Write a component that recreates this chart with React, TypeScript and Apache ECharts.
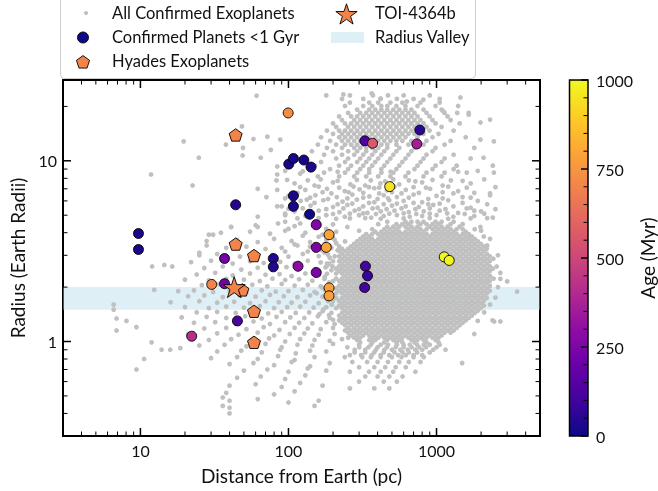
import React, { useEffect, useRef } from 'react';
import * as echarts from 'echarts';

const FONT = 'Lato, "Noto Sans", sans-serif';
const PLASMA = ['#0d0887', '#41049d', '#6a00a8', '#8f0da4', '#b12a90', '#cc4778', '#e16462', '#f2844b', '#fca636', '#fcce25', '#f0f921'];

const X_MIN = 3, X_MAX = 5000, Y_MIN = 0.3, Y_MAX = 28;
const xMajor = [10, 100, 1000];
const xMinor = [4, 5, 6, 7, 8, 9, 20, 30, 40, 50, 60, 70, 80, 90, 200, 300, 400, 500, 600, 700, 800, 900, 2000, 3000, 4000];
const yMajor = [1, 10];
const yMinor = [0.4, 0.5, 0.6, 0.7, 0.8, 0.9, 2, 3, 4, 5, 6, 7, 8, 9, 20];
const xTickLabels = ['10', '100', '1000'];
const yTickLabels = ['1', '10'];
const ageMajor = [0, 250, 500, 750, 1000];
const ageMinor = [50, 100, 150, 200, 300, 350, 400, 450, 550, 600, 650, 700, 800, 850, 900, 950];
const radiusValley = [1.5, 2.0];

// Confirmed planets < 1 Gyr
const youngDist = [9.7, 9.7, 44, 100.5, 108, 127, 142, 108, 108, 139, 79, 79, 45.2, 771, 331, 342, 327, 37, 37, 154, 154, 154, 116, 328, 736, 370, 22.2, 99.5, 188, 180, 188, 188, 30.3, 483, 1128, 1218];
const youngRad = [3.96, 3.23, 5.71, 9.59, 10.3, 10.1, 9.23, 6.4, 5.6, 5.06, 2.88, 2.59, 1.3, 14.8, 2.61, 2.31, 1.99, 2.88, 2.09, 4.43, 3.32, 2.41, 2.61, 12.9, 12.4, 12.5, 1.07, 18.4, 3.9, 3.32, 1.98, 1.79, 2.07, 7.2, 2.94, 2.81];
const youngAge = [22, 22, 45, 20, 23, 17, 35, 23, 23, 10, 40, 40, 120, 60, 110, 80, 110, 220, 220, 260, 250, 250, 290, 140, 360, 560, 420, 720, 790, 790, 780, 780, 700, 950, 990, 990];

// Hyades exoplanets
const hyadesDist = [44, 44, 58.5, 48.8, 58.5, 58.5];
const hyadesRad = [13.9, 3.46, 2.99, 1.93, 1.47, 0.99];

// TOI-4364b
const toiDist = [43];
const toiRad = [2.0];

// All confirmed exoplanets: dense Kepler-field population (radius, distances)
const keplerRows: [number, number[]][] = [
  [4.6, [465, 617, 677, 744, 817, 985, 1082, 1305]],
  [4.46, [404, 536, 588, 646, 780, 856, 940, 1032, 1245, 1502]],
  [4.32, [465, 511, 561, 617, 677, 744, 897, 985, 1082, 1188, 1433]],
  [4.18, [368, 444, 488, 536, 646, 710, 780, 856, 940, 1032, 1134, 1245, 1368, 1502, 1812]],
  [4.05, [386, 424, 465, 511, 561, 617, 677, 744, 817, 985, 1082, 1188, 1305, 1574]],
  [3.93, [335, 368, 404, 444, 488, 536, 588, 646, 710, 780, 856, 940, 1032, 1134, 1245, 1368, 1502, 1650]],
  [3.81, [320, 351, 424, 465, 511, 561, 617, 677, 744, 817, 897, 985, 1082, 1188, 1305, 1433, 1574, 1729, 2085]],
  [3.69, [305, 335, 368, 404, 444, 488, 536, 588, 646, 710, 780, 856, 940, 1032, 1134, 1245, 1368, 1502, 1650, 1812]],
  [3.58, [241, 291, 320, 351, 386, 424, 465, 511, 561, 617, 677, 744, 817, 897, 985, 1082, 1188, 1305, 1433, 1574, 1729, 1899]],
  [3.47, [278, 305, 335, 368, 404, 444, 488, 536, 588, 646, 710, 780, 856, 940, 1032, 1134, 1245, 1368, 1502, 1650, 1812, 1990]],
  [3.36, [220, 265, 291, 320, 351, 386, 424, 465, 511, 561, 617, 677, 744, 817, 897, 985, 1082, 1188, 1305, 1433, 1574, 1729, 1899, 2085]],
  [3.26, [230, 253, 278, 305, 335, 368, 404, 444, 488, 536, 588, 646, 710, 780, 856, 940, 1032, 1134, 1245, 1368, 1502, 1650, 1812, 1990, 2185]],
  [3.16, [220, 241, 265, 291, 320, 351, 386, 424, 465, 511, 561, 617, 677, 744, 817, 897, 985, 1082, 1188, 1305, 1433, 1574, 1729, 1899, 2085]],
  [3.06, [230, 253, 278, 305, 335, 368, 404, 444, 488, 536, 588, 646, 710, 780, 856, 940, 1032, 1134, 1245, 1368, 1502, 1650, 1812, 1990, 2185]],
  [2.96, [205, 220, 241, 265, 291, 320, 351, 386, 424, 465, 511, 561, 617, 677, 744, 817, 897, 985, 1082, 1188, 1305, 1433, 1574, 1729, 1899, 2085, 2290]],
  [2.87, [230, 253, 278, 305, 335, 368, 404, 444, 488, 536, 588, 646, 710, 780, 856, 940, 1032, 1134, 1245, 1368, 1502, 1650, 1812, 1990, 2185, 2420]],
  [2.78, [200, 220, 241, 265, 291, 320, 351, 386, 424, 465, 511, 561, 617, 677, 744, 817, 897, 985, 1082, 1188, 1305, 1433, 1574, 1729, 1899, 2085, 2290]],
  [2.7, [188, 230, 253, 278, 305, 335, 368, 404, 444, 488, 536, 588, 646, 710, 780, 856, 940, 1032, 1134, 1245, 1368, 1502, 1650, 1812, 1990, 2185]],
  [2.61, [198, 220, 241, 265, 291, 320, 351, 386, 424, 465, 511, 561, 617, 677, 744, 817, 897, 985, 1082, 1188, 1305, 1433, 1574, 1729, 1899, 2085, 2290]],
  [2.53, [210, 230, 253, 278, 305, 335, 368, 404, 444, 488, 536, 588, 646, 710, 780, 856, 940, 1032, 1134, 1245, 1368, 1502, 1650, 1812, 1990, 2185, 2400]],
  [2.45, [220, 241, 265, 291, 320, 351, 386, 424, 465, 511, 561, 617, 677, 744, 817, 897, 985, 1082, 1188, 1305, 1433, 1574, 1729, 1899, 2085, 2290]],
  [2.38, [210, 230, 253, 278, 305, 335, 368, 404, 444, 488, 536, 588, 646, 710, 780, 856, 940, 1032, 1134, 1245, 1368, 1502, 1650, 1812, 1990, 2185]],
  [2.3, [241, 265, 291, 320, 351, 386, 424, 465, 511, 561, 617, 677, 744, 817, 897, 985, 1082, 1188, 1305, 1433, 1574, 1729, 1899, 2085, 2290]],
  [2.23, [210, 230, 253, 278, 305, 335, 368, 404, 444, 488, 536, 588, 646, 710, 780, 856, 940, 1032, 1134, 1245, 1368, 1502, 1650, 1812, 1990, 2185, 2430]],
  [2.16, [200, 220, 241, 265, 291, 320, 351, 386, 424, 465, 511, 561, 617, 677, 744, 817, 897, 985, 1082, 1188, 1305, 1433, 1574, 1729, 1899, 2085, 2290]],
  [2.1, [230, 253, 278, 305, 335, 368, 404, 444, 488, 536, 588, 646, 710, 780, 856, 940, 1032, 1134, 1245, 1368, 1502, 1650, 1812, 1990, 2185]],
  [2.03, [220, 241, 265, 291, 320, 351, 386, 424, 465, 511, 561, 617, 677, 744, 817, 897, 985, 1082, 1188, 1305, 1433, 1574, 1729, 1899, 2085, 2290]],
  [1.97, [210, 230, 253, 278, 305, 335, 368, 404, 444, 488, 536, 588, 646, 710, 780, 856, 940, 1032, 1134, 1245, 1368, 1502, 1650, 1812, 1990, 2185]],
  [1.91, [220, 241, 265, 291, 320, 351, 386, 424, 465, 511, 561, 617, 677, 744, 817, 897, 985, 1082, 1188, 1305, 1433, 1574, 1729, 1899, 2085, 2290]],
  [1.85, [210, 230, 253, 278, 305, 335, 368, 404, 444, 488, 536, 588, 646, 710, 780, 856, 940, 1032, 1134, 1245, 1368, 1502, 1650, 1812, 1990, 2185]],
  [1.79, [241, 265, 291, 320, 351, 386, 424, 465, 511, 561, 617, 677, 744, 817, 897, 985, 1082, 1188, 1305, 1433, 1574, 1729, 1899, 2085]],
  [1.74, [210, 230, 253, 278, 305, 335, 368, 404, 444, 488, 536, 588, 646, 710, 780, 856, 940, 1032, 1134, 1245, 1368, 1502, 1650, 1812, 1990, 2185]],
  [1.68, [200, 220, 241, 265, 291, 320, 351, 386, 424, 465, 511, 561, 617, 677, 744, 817, 897, 985, 1082, 1188, 1305, 1433, 1574, 1729, 1899, 2085]],
  [1.63, [230, 253, 278, 305, 335, 368, 404, 444, 488, 536, 588, 646, 710, 780, 856, 940, 1032, 1134, 1245, 1368, 1502, 1650, 1812, 1990]],
  [1.58, [220, 241, 265, 291, 320, 351, 386, 424, 465, 511, 561, 617, 677, 744, 817, 897, 985, 1082, 1188, 1305, 1433, 1574, 1729, 1899, 2085]],
  [1.53, [210, 230, 253, 278, 305, 335, 368, 404, 444, 488, 536, 588, 646, 710, 780, 856, 940, 1032, 1134, 1245, 1368, 1502, 1650, 1812, 1990]],
  [1.48, [241, 265, 291, 320, 351, 386, 424, 465, 511, 561, 617, 677, 744, 817, 897, 985, 1082, 1188, 1305, 1433, 1574, 1729, 1899]],
  [1.44, [230, 253, 278, 305, 335, 368, 404, 444, 488, 536, 588, 646, 710, 780, 856, 940, 1032, 1134, 1245, 1368, 1502, 1650, 1812]],
  [1.39, [220, 241, 265, 291, 320, 351, 386, 424, 465, 511, 561, 617, 677, 744, 817, 897, 985, 1082, 1188, 1305, 1433, 1574, 1729]],
  [1.35, [230, 253, 278, 305, 335, 368, 404, 444, 488, 536, 588, 646, 710, 780, 856, 940, 1032, 1134, 1245, 1368, 1502, 1650]],
  [1.31, [220, 241, 265, 291, 320, 351, 386, 424, 465, 511, 561, 617, 677, 744, 817, 897, 985, 1082, 1188, 1305, 1433, 1574]],
  [1.27, [230, 253, 278, 305, 335, 368, 404, 444, 488, 536, 588, 646, 710, 780, 856, 940, 1032, 1134, 1245, 1368, 1502]],
  [1.23, [241, 265, 291, 320, 351, 386, 424, 465, 511, 561, 617, 677, 744, 817, 897, 985, 1082, 1188, 1305, 1433]],
  [1.19, [253, 278, 305, 335, 368, 404, 444, 488, 536, 588, 646, 710, 780, 856, 940, 1032, 1134, 1245, 1368]],
  [1.15, [241, 265, 291, 320, 351, 386, 424, 465, 511, 561, 617, 677, 744, 817, 897, 985, 1082, 1188, 1305]],
  [1.12, [253, 278, 305, 335, 368, 404, 444, 488, 536, 588, 646, 710, 780, 856, 940, 1032, 1134, 1245]],
  [1.08, [265, 291, 320, 351, 386, 424, 465, 511, 561, 617, 677, 744, 817, 897, 985, 1082]],
  [1.05, [253, 278, 305, 368, 404, 444, 488, 536, 588, 646, 710, 780, 856, 940, 1032]],
  [1.02, [291, 351, 386, 465, 511, 561, 677, 744, 817, 985]],
  [0.99, [305, 368, 444, 536, 588, 710, 856, 1032]],
  [0.96, [300, 360, 420, 470, 540, 600, 660, 740, 820, 900, 1050]],
  [0.93, [250, 301, 347, 400, 462, 530, 600, 680, 760, 850, 1000]],
  [0.9, [280, 330, 390, 445, 500, 570, 640, 720, 800, 950, 1150]],
  [0.87, [280, 330, 380, 440, 520, 590, 650, 740, 900]],
  [0.84, [260, 310, 365, 420, 480, 550, 620, 700, 800]],
  [0.82, [240, 315, 360, 420, 500, 580, 700, 820]],
  [0.77, [270, 340, 400, 470, 560, 650, 780]],
  [0.72, [300, 380, 450, 530, 620]],
  [0.68, [260, 350, 420, 510, 720]],
  [0.64, [330, 400, 480, 590]],
  [0.6, [300, 440, 540]],
  [0.55, [260, 380, 480]],
];

// All confirmed exoplanets: hot-Jupiter population (radius, distances)
const hotJupiterRows: [number, number[]][] = [
  [23, [180, 260, 372, 470, 600, 900]],
  [22, [230, 320, 420, 540, 700, 1050]],
  [21, [260, 351, 404, 488, 588, 780, 1050]],
  [20.1, [241, 320, 368, 424, 465, 536, 617, 744, 985, 1400]],
  [19.2, [291, 351, 386, 424, 465, 511, 561, 617, 677, 817, 1082]],
  [18.4, [253, 305, 335, 368, 404, 444, 488, 536, 588, 646, 710, 856, 1134, 1650]],
  [17.6, [220, 265, 291, 320, 351, 386, 424, 465, 511, 561, 617, 677, 744, 897, 1188]],
  [16.8, [230, 278, 305, 335, 368, 404, 444, 488, 536, 588, 646, 710, 780, 940, 1245]],
  [16.1, [200, 241, 265, 291, 320, 351, 386, 424, 465, 511, 561, 617, 677, 744, 817, 985, 1433]],
  [15.4, [210, 253, 278, 305, 335, 368, 404, 444, 488, 536, 588, 646, 710, 780, 856, 1082]],
  [14.7, [182, 220, 241, 265, 291, 320, 351, 386, 424, 465, 511, 561, 617, 677, 744, 897, 1305]],
  [14.1, [200, 230, 253, 278, 305, 335, 368, 404, 444, 488, 536, 588, 646, 710, 817, 1032]],
  [13.5, [166, 220, 241, 265, 291, 320, 351, 386, 424, 465, 511, 561, 617, 744, 940, 1574]],
  [12.9, [191, 230, 253, 278, 305, 335, 368, 404, 444, 488, 536, 588, 677, 856, 1245]],
  [12.3, [158, 210, 241, 265, 291, 320, 351, 386, 424, 465, 536, 646, 817, 1134]],
  [11.8, [182, 230, 278, 305, 335, 368, 404, 465, 561, 710, 985, 1800]],
  [11.3, [144, 200, 253, 291, 335, 386, 444, 536, 677, 940]],
  [10.8, [174, 230, 278, 320, 368, 424, 511, 646, 856, 1305]],
  [10.3, [131, 210, 253, 305, 351, 404, 488, 617, 817, 1134, 1700]],
  [9.85, [166, 241, 291, 335, 386, 465, 588, 780, 1082]],
  [9.4, [151, 220, 265, 320, 368, 444, 561, 744, 985, 1368, 2400]],
  [9.0, [191, 253, 305, 351, 424, 536, 710, 940, 1305]],
  [8.6, [174, 241, 291, 351, 424, 511, 646, 856, 1134, 1600]],
  [8.2, [158, 220, 278, 335, 404, 488, 617, 817, 1082]],
];

// All confirmed exoplanets: sparser individual points [distance, radius]
const grayPairs: [number, number][] = [
  [95, 8.8], [125, 8.75], [215, 8.7], [490, 8.7], [1400, 8.7], [1900, 8.8],
  [98, 7.85], [135, 7.8], [165, 7.9], [215, 7.75], [290, 7.85], [360, 7.8], [450, 7.7], [510, 7.9], [650, 7.8], [720, 7.7], [940, 7.85], [1250, 7.8], [1500, 7.75], [2100, 7.9],
  [110, 7.5], [150, 7.3], [200, 7.6], [262, 7.4], [330, 7.3], [418, 7.5], [560, 7.4], [800, 7.6], [1100, 7.3], [1700, 7.5],
  [120, 7.15], [160, 7.2], [220, 7.1], [275, 7.2], [350, 7.15], [410, 7.1], [520, 7.2], [700, 7.15], [850, 7.1], [1200, 7.2], [1600, 7.1], [2500, 7.15],
  [130, 6.9], [182, 7.0], [240, 6.8], [302, 6.95], [380, 7.05], [462, 6.85], [620, 6.9], [905, 7.0], [1400, 6.8],
  [115, 6.65], [170, 6.7], [195, 6.6], [255, 6.7], [320, 6.65], [410, 6.6], [500, 6.7], [580, 6.6], [760, 6.65], [1100, 6.7], [1300, 6.6], [1800, 6.65],
  [100, 6.4], [152, 6.45], [212, 6.3], [270, 6.5], [352, 6.35], [440, 6.45], [540, 6.3], [700, 6.5], [1000, 6.4], [1500, 6.3], [2300, 6.45],
  [95, 6.2], [140, 6.25], [185, 6.15], [250, 6.2], [320, 6.25], [400, 6.15], [470, 6.2], [650, 6.25], [880, 6.15], [1100, 6.2], [1700, 6.25],
  [121, 6.0], [172, 6.05], [232, 5.95], [290, 6.1], [380, 5.9], [480, 6.05], [600, 6.0], [800, 5.9], [1200, 6.05], [1900, 6.0],
  [108, 5.8], [150, 5.85], [215, 5.75], [270, 5.8], [350, 5.85], [440, 5.75], [540, 5.8], [700, 5.85], [880, 5.75], [1050, 5.8], [1500, 5.85], [2200, 5.75],
  [90, 5.6], [141, 5.65], [200, 5.55], [250, 5.7], [320, 5.6], [400, 5.5], [500, 5.65], [620, 5.6], [760, 5.55], [950, 5.7], [1300, 5.6], [1700, 5.5],
  [100, 5.42], [125, 5.45], [180, 5.4], [235, 5.45], [300, 5.4], [370, 5.45], [460, 5.4], [580, 5.45], [720, 5.4], [900, 5.45], [1150, 5.4], [1600, 5.45], [2500, 5.4],
  [110, 5.25], [160, 5.3], [221, 5.2], [280, 5.3], [341, 5.15], [420, 5.25], [520, 5.3], [650, 5.2], [820, 5.25], [1050, 5.3], [1400, 5.15], [2000, 5.25],
  [95, 5.1], [140, 5.12], [200, 5.08], [260, 5.1], [320, 5.12], [390, 5.08], [480, 5.1], [600, 5.12], [730, 5.08], [900, 5.1], [1180, 5.12], [1550, 5.08], [2100, 5.1],
  [130, 4.95], [180, 5.0], [240, 4.9], [300, 5.0], [362, 4.85], [440, 4.95], [540, 5.0], [660, 4.9], [800, 4.95], [1000, 5.0], [1300, 4.9], [1800, 4.95], [2400, 4.85],
  [115, 4.8], [160, 4.82], [210, 4.78], [260, 4.8], [330, 4.82], [420, 4.78], [600, 4.8], [900, 4.82], [1200, 4.78], [1700, 4.8], [2200, 4.82],
  [95, 4.6], [120, 4.5], [160, 4.4], [180, 4.2], [100, 4.2], [125, 3.85], [160, 3.8], [200, 3.75], [110, 3.45], [140, 3.35], [175, 3.45], [210, 3.5], [95, 3.15], [135, 3.15], [175, 3.1], [215, 3.2],
  [250, 4.3], [300, 4.1], [2000, 4.1], [2300, 3.7], [2200, 3.4], [2600, 3.0], [2550, 2.6], [2700, 2.4], [2600, 2.0], [2500, 1.75], [2300, 1.6], [2100, 1.45], [1900, 1.3],
  [190, 2.9], [182, 2.62], [195, 2.48], [176, 2.28], [188, 2.12], [170, 1.98], [192, 1.84], [180, 1.72], [196, 1.6], [172, 1.5], [188, 1.4], [200, 1.32],
  [168, 3.2], [190, 3.4], [205, 3.65], [160, 2.4], [155, 1.85], [162, 1.42],
  [60, 4.4], [85, 4.5], [110, 4.35], [150, 4.6], [200, 4.45], [41, 4.3], [62, 4.3],
  [35, 4.0], [55, 4.05], [75, 3.95], [95, 4.1], [130, 4.0], [170, 3.9], [210, 4.05],
  [28, 3.6], [45, 3.65], [62, 3.55], [80, 3.7], [105, 3.6], [140, 3.55], [180, 3.65],
  [38, 3.3], [52, 3.35], [70, 3.25], [90, 3.3], [115, 3.4], [150, 3.2], [195, 3.3],
  [25, 3.0], [33, 3.05], [47, 2.95], [60, 3.1], [78, 3.0], [100, 2.95], [125, 3.05], [160, 2.97], [185, 3.02],
  [22, 2.75], [30, 2.8], [42, 2.7], [55, 2.78], [68, 2.72], [88, 2.76], [110, 2.7], [135, 2.8], [165, 2.74], [182, 2.7],
  [27, 2.55], [36, 2.6], [48, 2.5], [62, 2.56], [80, 2.52], [97, 2.58], [120, 2.54], [150, 2.5], [178, 2.57],
  [24, 2.35], [32, 2.4], [42, 2.32], [55, 2.38], [70, 2.34], [87, 2.36], [105, 2.3], [130, 2.38], [160, 2.33], [182, 2.37],
  [20, 2.2], [29, 2.18], [38, 2.22], [50, 2.2], [64, 2.16], [78, 2.23], [95, 2.19], [118, 2.21], [145, 2.17], [175, 2.22],
  [26, 2.05], [34, 2.07], [45, 2.03], [57, 2.06], [72, 2.02], [90, 2.08], [110, 2.04], [135, 2.06], [165, 2.02], [190, 2.07],
  [18, 1.9], [23, 1.92], [31, 1.88], [40, 1.91], [52, 1.87], [66, 1.92], [82, 1.89], [100, 1.9], [125, 1.93], [150, 1.88], [178, 1.91],
  [21, 1.78], [27, 1.8], [36, 1.76], [47, 1.79], [60, 1.77], [75, 1.81], [93, 1.78], [115, 1.76], [140, 1.8], [170, 1.77],
  [16, 1.65], [25, 1.67], [33, 1.64], [43, 1.66], [55, 1.63], [70, 1.67], [86, 1.65], [105, 1.64], [130, 1.66], [160, 1.63], [185, 1.67],
  [20, 1.55], [29, 1.53], [38, 1.56], [50, 1.54], [64, 1.57], [80, 1.53], [98, 1.55], [120, 1.56], [148, 1.54], [180, 1.55],
  [24, 1.45], [33, 1.46], [44, 1.44], [58, 1.47], [73, 1.43], [90, 1.46], [112, 1.44], [138, 1.45], [170, 1.47], [195, 1.44],
  [19, 1.36], [28, 1.37], [38, 1.35], [51, 1.38], [66, 1.34], [83, 1.37], [103, 1.36], [128, 1.35], [158, 1.38], [190, 1.35],
  [23, 1.27], [32, 1.28], [44, 1.26], [58, 1.29], [75, 1.25], [95, 1.28], [118, 1.27], [145, 1.26], [180, 1.28], [205, 1.25],
  [27, 1.18], [38, 1.19], [52, 1.17], [68, 1.2], [87, 1.16], [110, 1.19], [135, 1.18], [165, 1.17], [200, 1.19],
  [21, 1.1], [33, 1.11], [46, 1.09], [62, 1.12], [80, 1.08], [102, 1.1], [128, 1.11], [160, 1.09], [205, 1.1],
  [29, 1.02], [41, 1.03], [56, 1.01], [74, 1.04], [95, 1.0], [120, 1.03], [150, 1.02], [190, 1.01], [230, 1.03],
  [25, 0.95], [37, 0.96], [52, 0.94], [70, 0.97], [90, 0.93], [115, 0.96], [145, 0.95], [200, 0.97],
  [33, 0.88], [48, 0.89], [66, 0.87], [88, 0.9], [112, 0.86], [140, 0.89], [180, 0.88],
  [30, 0.81], [45, 0.82], [62, 0.8], [85, 0.83], [110, 0.79], [150, 0.82],
  [40, 0.75], [58, 0.76], [80, 0.74], [105, 0.77], [140, 0.73], [190, 0.76],
  [50, 0.69], [72, 0.7], [100, 0.68], [135, 0.71], [180, 0.69],
  [45, 0.63], [65, 0.64], [95, 0.62], [130, 0.65],
  [40, 0.57], [60, 0.58], [90, 0.56], [120, 0.59], [170, 0.57],
  [38, 0.52], [80, 0.51], [110, 0.53], [40, 0.47], [62, 0.48], [100, 0.46], [160, 0.47], [40, 0.43], [150, 0.44], [40, 0.4], [36, 0.49], [36, 0.44],
  [6.6, 1.6], [6.6, 1.5], [6.9, 1.34], [8.05, 1.3], [6.9, 1.15], [9.4, 1.2], [9.4, 0.7], [10.6, 0.8], [12.4, 1.93], [12.0, 2.6], [14.5, 2.65], [16.4, 2.6],
  [11.9, 0.99], [13.9, 0.9], [15.9, 0.9], [18.6, 0.92],
  [60.9, 22.9], [48.5, 15.5], [19.6, 12.8], [58, 13.2], [49.3, 11.8], [49, 10.7], [37.8, 12.3], [24.8, 10.4], [11.8, 8.4], [22.5, 7.3],
  [72, 13.6], [88, 13.1], [76, 11.5], [65, 10.4], [84, 9.3], [84, 8.4], [120, 8.5], [62, 7.0], [83, 7.8], [71, 6.3], [84, 6.9], [133, 6.1],
  [84, 5.6], [62, 4.9], [95, 5.0], [41, 4.3], [31, 3.9], [29, 3.9], [28, 3.4], [25, 3.1],
  [365, 23.6], [235, 23.3], [418, 22.1], [630, 21.3], [815, 21.8], [1110, 18.8], [1380, 18.4], [1450, 22.4], [1650, 18], [2300, 16.9],
  [1980, 16.3], [2440, 12.8], [1980, 13.1], [2440, 8.6], [2080, 10.4], [2300, 6.6], [1800, 5.3], [1980, 4.3], [1620, 3.8],
  [2390, 1.31], [2450, 1.29], [2700, 1.29], [1800, 1.1], [1490, 0.76], [3500, 1.89], [3000, 2.15], [2700, 2.22], [2300, 2.3],
];

const PENTAGON = 'path://M50,0L97.55,34.55L79.39,90.45L20.61,90.45L2.45,34.55Z';
const STAR = 'path://M50,0L61.23,34.55L97.55,34.55L68.17,55.9L79.39,90.45L50,69.1L20.61,90.45L31.83,55.9L2.45,34.55L38.77,34.55Z';

function polyPoints(cx: number, cy: number, R: number, r: number | null, n: number) {
  const pts: number[][] = [];
  const count = r === null ? n : n * 2;
  for (let i = 0; i < count; i++) {
    const ang = -Math.PI / 2 + (i * 2 * Math.PI) / count;
    const rad = r === null ? R : i % 2 === 0 ? R : r;
    pts.push([cx + rad * Math.cos(ang), cy + rad * Math.sin(ang)]);
  }
  return pts;
}

function fmt(labels: string[]) {
  return (v: number) => {
    const s = String(Number(Number(v).toPrecision(6)));
    return labels.includes(s) ? s : '';
  };
}

function tickSeries(values: number[], dir: 'x' | 'y', len: number, width: number) {
  return {
    type: 'custom',
    coordinateSystem: 'cartesian2d',
    xAxisIndex: 0,
    yAxisIndex: 0,
    silent: true,
    z: 10,
    data: values.map((v) => (dir === 'x' ? [v, 1] : [10, v])),
    renderItem: (_p: any, api: any) => {
      const style = { stroke: '#000', lineWidth: width };
      if (dir === 'x') {
        const v = api.value(0);
        const b = api.coord([v, Y_MIN]);
        const t = api.coord([v, Y_MAX]);
        return {
          type: 'group',
          children: [
            { type: 'line', shape: { x1: b[0], y1: b[1], x2: b[0], y2: b[1] - len }, style },
            { type: 'line', shape: { x1: t[0], y1: t[1], x2: t[0], y2: t[1] + len }, style },
          ],
        };
      }
      const v = api.value(1);
      const l = api.coord([X_MIN, v]);
      const r = api.coord([X_MAX, v]);
      return {
        type: 'group',
        children: [
          { type: 'line', shape: { x1: l[0], y1: l[1], x2: l[0] + len, y2: l[1] }, style },
          { type: 'line', shape: { x1: r[0], y1: r[1], x2: r[0] - len, y2: r[1] }, style },
        ],
      };
    },
  };
}

export default function App() {
  const ref = useRef<HTMLDivElement>(null);
  useEffect(() => {
    const chart = echarts.init(ref.current as HTMLDivElement, null, { renderer: 'svg' });

    const grayData = [
      ...keplerRows.flatMap(([r, ds]) => ds.map((d) => [d, r])),
      ...hotJupiterRows.flatMap(([r, ds]) => ds.map((d) => [d, r])),
      ...grayPairs,
    ];
    const youngData = youngDist.map((d, i) => [d, youngRad[i], youngAge[i]]);
    const hyadesData = hyadesDist.map((d, i) => [d, hyadesRad[i]]);
    const toiData = toiDist.map((d, i) => [d, toiRad[i]]);

    const textBase = { fontFamily: FONT, fontSize: 16.5, fill: '#111', verticalAlign: 'middle' };

    const option: any = {
      animation: false,
      textStyle: { fontFamily: FONT },
      grid: [
        { left: 61, top: 80, width: 479, height: 356, show: true, borderColor: '#000', borderWidth: 2, backgroundColor: 'transparent' },
        { left: 569.5, top: 80, width: 19, height: 356 },
      ],
      xAxis: [
        {
          type: 'log', logBase: 10, gridIndex: 0, min: X_MIN, max: X_MAX,
          axisLine: { show: false }, axisTick: { show: false }, splitLine: { show: false },
          axisLabel: { formatter: fmt(xTickLabels), margin: 6, fontSize: 16, color: '#111', fontFamily: FONT },
          name: 'Distance from Earth (pc)', nameLocation: 'middle', nameGap: 30,
          nameTextStyle: { fontSize: 19, color: '#111', fontFamily: FONT },
        },
        { type: 'value', gridIndex: 1, min: 0, max: 1, show: false },
      ],
      yAxis: [
        {
          type: 'log', logBase: 10, gridIndex: 0, min: Y_MIN, max: Y_MAX,
          axisLine: { show: false }, axisTick: { show: false }, splitLine: { show: false },
          axisLabel: { formatter: fmt(yTickLabels), margin: 6, fontSize: 16, color: '#111', fontFamily: FONT },
          name: 'Radius (Earth Radii)', nameLocation: 'middle', nameGap: 36, nameRotate: 90,
          nameTextStyle: { fontSize: 19, color: '#111', fontFamily: FONT },
        },
        {
          type: 'value', gridIndex: 1, min: 0, max: 1000, interval: 250, position: 'right',
          axisLine: { show: false }, axisTick: { show: false }, minorTick: { show: false },
          splitLine: { show: false },
          axisLabel: { margin: 8, fontSize: 16, color: '#111', fontFamily: FONT, formatter: (v: number) => String(v) },
          name: 'Age (Myr)', nameLocation: 'middle', nameGap: 50, nameRotate: 90,
          nameTextStyle: { fontSize: 19, color: '#111', fontFamily: FONT },
        },
      ],
      visualMap: {
        type: 'continuous', show: false, min: 0, max: 1000, dimension: 2, seriesIndex: 2,
        inRange: { color: PLASMA },
      },
      series: [
        {
          name: 'Radius Valley', type: 'custom', coordinateSystem: 'cartesian2d', xAxisIndex: 0, yAxisIndex: 0,
          silent: true, z: 1,
          data: [[X_MIN, radiusValley[0], radiusValley[1]]],
          renderItem: (_p: any, api: any) => {
            const a = api.coord([X_MIN, api.value(2)]);
            const b = api.coord([X_MAX, api.value(1)]);
            return { type: 'rect', shape: { x: a[0], y: a[1], width: b[0] - a[0], height: b[1] - a[1] }, style: { fill: 'rgba(173,216,230,0.4)' } };
          },
        },
        {
          name: 'All Confirmed Exoplanets', type: 'scatter', xAxisIndex: 0, yAxisIndex: 0, silent: true, z: 2,
          symbol: 'circle', symbolSize: 4.8, itemStyle: { color: '#c0c0c0', opacity: 1 }, data: grayData,
        },
        {
          name: 'Confirmed Planets <1 Gyr', type: 'scatter', xAxisIndex: 0, yAxisIndex: 0, z: 3,
          symbol: 'circle', symbolSize: 10, itemStyle: { borderColor: '#000', borderWidth: 0.9, opacity: 1 }, data: youngData,
        },
        {
          name: 'Hyades Exoplanets', type: 'scatter', xAxisIndex: 0, yAxisIndex: 0, z: 4,
          symbol: PENTAGON, symbolKeepAspect: true, symbolSize: 13,
          itemStyle: { color: '#f2844b', borderColor: '#000', borderWidth: 0.9, opacity: 1 }, data: hyadesData,
        },
        {
          name: 'TOI-4364b', type: 'scatter', xAxisIndex: 0, yAxisIndex: 0, z: 5,
          symbol: STAR, symbolKeepAspect: true, symbolSize: 22,
          itemStyle: { color: '#f2844b', borderColor: '#000', borderWidth: 0.9, opacity: 1 }, data: toiData,
        },
        tickSeries(xMajor, 'x', 8, 1.5),
        tickSeries(xMinor, 'x', 4.5, 1),
        tickSeries(yMajor, 'y', 8, 1.5),
        tickSeries(yMinor, 'y', 4.5, 1),
        {
          type: 'custom', coordinateSystem: 'cartesian2d', xAxisIndex: 1, yAxisIndex: 1, silent: true, z: 1,
          data: [[0, 0]],
          renderItem: (_p: any, api: any) => {
            const a = api.coord([0, 0]);
            const b = api.coord([1, 1000]);
            const tick = (v: number, len: number, w: number) => {
              const p = api.coord([1, v]);
              return { type: 'line', shape: { x1: p[0], y1: p[1], x2: p[0] - len, y2: p[1] }, style: { stroke: '#000', lineWidth: w } };
            };
            return {
              type: 'group',
              children: [
                {
                  type: 'rect',
                  shape: { x: a[0], y: b[1], width: b[0] - a[0], height: a[1] - b[1] },
                  style: {
                    fill: new echarts.graphic.LinearGradient(0, 1, 0, 0, PLASMA.map((c, i) => ({ offset: i / (PLASMA.length - 1), color: c }))),
                    stroke: '#000', lineWidth: 1.5,
                  },
                },
                ...ageMajor.map((v) => tick(v, 7, 1.5)),
                ...ageMinor.map((v) => tick(v, 4.5, 1)),
              ],
            };
          },
        },
      ],
      graphic: [
        { type: 'rect', z: 100, shape: { x: 60.5, y: -10, width: 415, height: 88.5, r: 4 }, style: { fill: 'rgba(255,255,255,0.85)', stroke: '#cccccc', lineWidth: 1 } },
        { type: 'circle', z: 101, shape: { cx: 86, cy: 13, r: 2.1 }, style: { fill: '#c0c0c0' } },
        { type: 'text', z: 101, x: 112, y: 13, style: { ...textBase, text: 'All Confirmed Exoplanets' } },
        { type: 'circle', z: 101, shape: { cx: 83, cy: 37.5, r: 5.5 }, style: { fill: '#0d0887', stroke: '#000', lineWidth: 0.9 } },
        { type: 'text', z: 101, x: 112, y: 37, style: { ...textBase, text: 'Confirmed Planets <1 Gyr' } },
        { type: 'polygon', z: 101, shape: { points: polyPoints(83, 62.5, 6.9, null, 5) }, style: { fill: '#f2844b', stroke: '#000', lineWidth: 0.9 } },
        { type: 'text', z: 101, x: 112, y: 61, style: { ...textBase, text: 'Hyades Exoplanets' } },
        { type: 'polygon', z: 101, shape: { points: polyPoints(346.5, 15, 11.2, 4.3, 5) }, style: { fill: '#f2844b', stroke: '#000', lineWidth: 0.9 } },
        { type: 'text', z: 101, x: 375, y: 13, style: { ...textBase, text: 'TOI-4364b' } },
        { type: 'rect', z: 101, shape: { x: 331, y: 32, width: 33, height: 11 }, style: { fill: 'rgba(173,216,230,0.4)' } },
        { type: 'text', z: 101, x: 375, y: 37, style: { ...textBase, text: 'Radius Valley' } },
      ],
    };

    chart.setOption(option);
    return () => chart.dispose();
  }, []);
  return <div ref={ref} style={{ position: 'fixed', left: 0, top: 0, width: 658, height: 491 }} />;
}
